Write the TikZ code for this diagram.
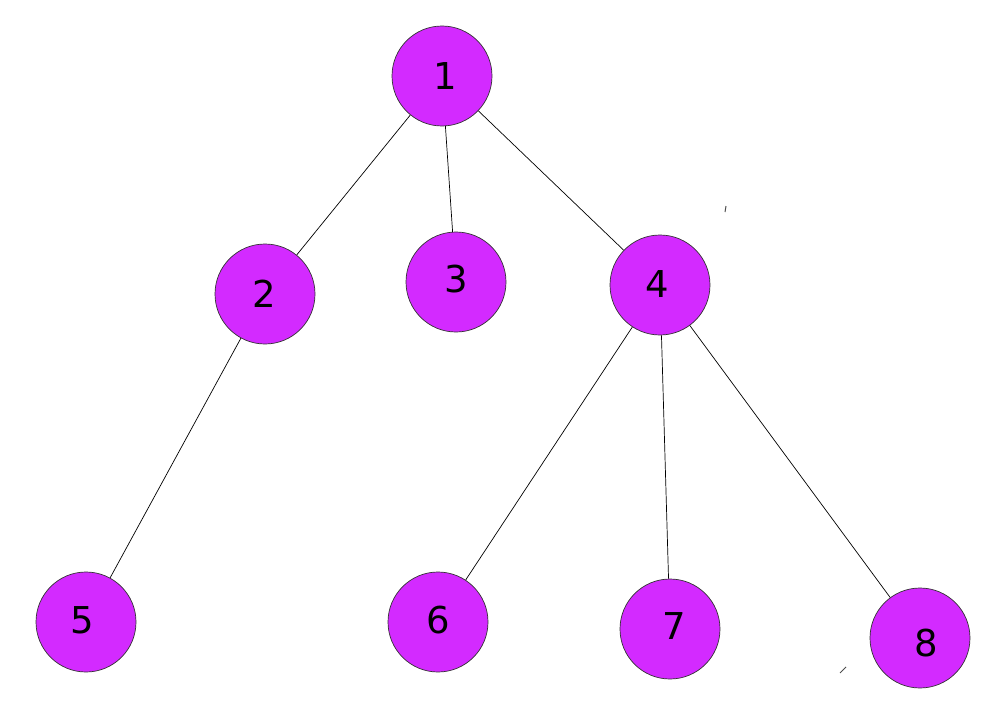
\documentclass[tikz,border=0pt]{standalone}
\usepackage{fontspec}
\setmainfont{DejaVu Sans}
\definecolor{nodefill}{RGB}{211,42,255}
\begin{document}
\begin{tikzpicture}[x=1pt,y=-1pt,
  vert/.style={circle,draw=black!80,line width=0.7pt,fill=nodefill,minimum size=100pt,inner sep=0pt},
  lbl/.style={font=\fontsize{37}{40}\selectfont,inner sep=0pt},
  edge/.style={line width=0.7pt,black}]
\useasboundingbox (0,0) rectangle (1004,709);
\node[vert,label={[lbl,xshift=3pt]center:1}] (n1) at (442,76) {};
\node[vert,label={[lbl,xshift=-1pt]center:2}] (n2) at (265,294) {};
\node[vert,label={[lbl,yshift=3pt]center:3}] (n3) at (456,282) {};
\node[vert,label={[lbl,xshift=-3pt,yshift=1pt]center:4}] (n4) at (660,285) {};
\node[vert,label={[lbl,xshift=-4pt,yshift=2pt]center:5}] (n5) at (86,622) {};
\node[vert,label={[lbl,yshift=2pt]center:6}] (n6) at (438,622) {};
\node[vert,label={[lbl,xshift=4pt,yshift=3pt]center:7}] (n7) at (670,629) {};
\node[vert,label={[lbl,xshift=6pt,yshift=-5pt]center:8}] (n8) at (920,638) {};
\draw[edge] (n1) -- (n2);
\draw[edge] (n1) -- (n3);
\draw[edge] (n1) -- (n4);
\draw[edge] (n2) -- (n5);
\draw[edge] (n4) -- (n6);
\draw[edge] (n4) -- (n7);
\draw[edge] (n4) -- (n8);
\coordinate (m1a) at (726,206);
\coordinate (m1b) at (725,212);
\coordinate (m2a) at (840,673);
\coordinate (m2b) at (846,667);
\draw[black!70,line width=1pt] (m1a) -- (m1b);
\draw[black!70,line width=1pt] (m2a) -- (m2b);
\end{tikzpicture}
\end{document}
